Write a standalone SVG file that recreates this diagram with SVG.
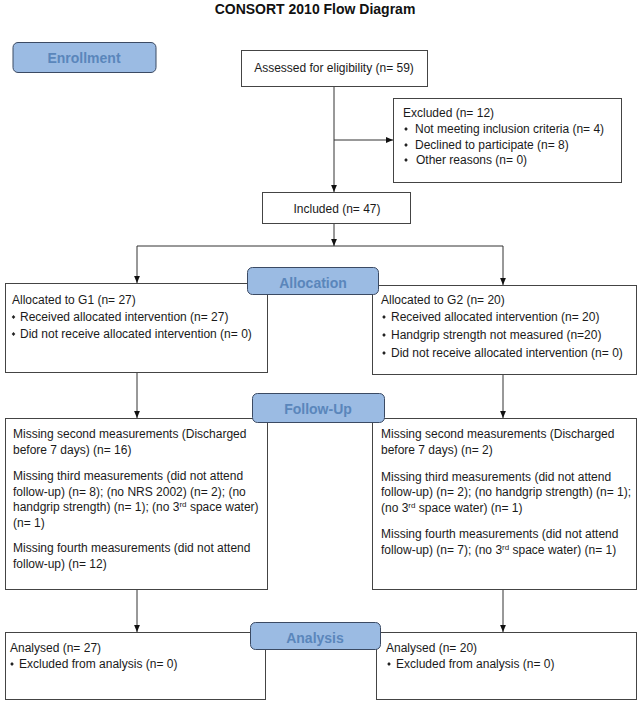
<svg xmlns="http://www.w3.org/2000/svg" width="640" height="702" viewBox="0 0 640 702">
<style>
.bg{fill:#ffffff}
.box{fill:#ffffff;stroke:#444444;stroke-width:1}
.lab{fill:#9bbbe3;stroke:#3b4a63;stroke-width:1}
.lt{font-family:"Liberation Sans",Arial,sans-serif;font-weight:bold;font-size:14px;fill:#5a86bb;text-anchor:middle}
.title{font-family:"Liberation Sans",Arial,sans-serif;font-weight:bold;font-size:14px;fill:#111111;text-anchor:middle}
.t{font-family:"Liberation Sans",Arial,sans-serif;font-size:12px;fill:#1a1a1a}
.c{text-anchor:middle}
.ln{fill:none;stroke:#333333;stroke-width:1}
.sup{font-size:8px}
</style>
<defs>
<marker id="ar" viewBox="0 0 7 7" refX="7" refY="3.5" markerWidth="7" markerHeight="7" markerUnits="userSpaceOnUse" orient="auto">
<path d="M0,0.6 L7,3.5 L0,6.4Z" fill="#111111"/>
</marker>
<path id="b" d="M0,-2 L1.8,0 L0,2 L-1.8,0Z" fill="#222222"/>
</defs>
<rect class="bg" x="0" y="0" width="640" height="702"/>
<text class="title" x="315" y="14">CONSORT 2010 Flow Diagram</text>

<g id="connectors">
<path class="ln" d="M334,86 V192" marker-end="url(#ar)"/>
<path class="ln" d="M334,140 H393" marker-end="url(#ar)"/>
<path class="ln" d="M334,223 V246" marker-end="url(#ar)"/>
<path class="ln" d="M137,246 H503"/>
<path class="ln" d="M137,246 V283" marker-end="url(#ar)"/>
<path class="ln" d="M503,246 V285" marker-end="url(#ar)"/>
<path class="ln" d="M137,372 V418" marker-end="url(#ar)"/>
<path class="ln" d="M503,374 V418" marker-end="url(#ar)"/>
<path class="ln" d="M137,589 V632" marker-end="url(#ar)"/>
<path class="ln" d="M503,589 V632" marker-end="url(#ar)"/>
</g>

<g id="enrollment">
<rect class="lab" x="13" y="42.5" width="143" height="30" rx="5"/>
<text class="lt" x="84" y="62.5">Enrollment</text>
</g>

<g id="assessed">
<rect class="box" x="241.5" y="50.5" width="186" height="36"/>
<text class="t c" x="334" y="72">Assessed for eligibility (n= 59)</text>
</g>

<g id="excluded">
<rect class="box" x="393.5" y="98.5" width="228" height="84"/>
<text class="t" x="403" y="117">Excluded (n= 12)</text>
<use href="#b" x="406" y="129"/>
<text class="t" x="415" y="133">Not meeting inclusion criteria (n= 4)</text>
<use href="#b" x="406" y="145"/>
<text class="t" x="415" y="149">Declined to participate (n= 8)</text>
<use href="#b" x="406" y="160"/>
<text class="t" x="416" y="164">Other reasons (n= 0)</text>
</g>

<g id="included">
<rect class="box" x="262.5" y="192.5" width="148" height="31"/>
<text class="t c" x="337" y="213">Included (n= 47)</text>
</g>

<g id="g1">
<rect class="box" x="5.5" y="283.5" width="262" height="89"/>
<text class="t" x="12" y="304">Allocated to G1 (n= 27)</text>
<use href="#b" x="13.5" y="317"/>
<text class="t" x="20" y="321">Received allocated intervention (n= 27)</text>
<use href="#b" x="13.5" y="334"/>
<text class="t" x="20" y="338">Did not receive allocated intervention (n= 0)</text>
</g>

<g id="g2">
<rect class="box" x="372.5" y="285.5" width="264" height="89"/>
<text class="t" x="381" y="304">Allocated to G2 (n= 20)</text>
<use href="#b" x="384" y="317"/>
<text class="t" x="391" y="321">Received allocated intervention (n= 20)</text>
<use href="#b" x="384" y="335"/>
<text class="t" x="391" y="339">Handgrip strength not measured (n=20)</text>
<use href="#b" x="384" y="353"/>
<text class="t" x="391" y="357">Did not receive allocated intervention (n= 0)</text>
</g>

<g id="allocation">
<rect class="lab" x="247.5" y="267.5" width="131" height="27" rx="5"/>
<text class="lt" x="313" y="288">Allocation</text>
</g>

<g id="followup-g1">
<rect class="box" x="5.5" y="418.5" width="262" height="171"/>
<text class="t" x="13" y="438">Missing second measurements (Discharged</text>
<text class="t" x="13" y="454">before 7 days) (n= 16)</text>
<text class="t" x="13" y="480">Missing third measurements (did not attend</text>
<text class="t" x="13" y="496">follow-up) (n= 8); (no NRS 2002) (n= 2); (no</text>
<text class="t" x="13" y="511">handgrip strength) (n= 1); (no 3<tspan class="sup" dy="-4">rd</tspan><tspan dy="4"> space water)</tspan></text>
<text class="t" x="13" y="527">(n= 1)</text>
<text class="t" x="13" y="552">Missing fourth measurements (did not attend</text>
<text class="t" x="13" y="568">follow-up) (n= 12)</text>
</g>

<g id="followup-g2">
<rect class="box" x="372.5" y="418.5" width="264" height="171"/>
<text class="t" x="381" y="438">Missing second measurements (Discharged</text>
<text class="t" x="381" y="454">before 7 days) (n= 2)</text>
<text class="t" x="381" y="481">Missing third measurements (did not attend</text>
<text class="t" x="381" y="496">follow-up) (n= 2); (no handgrip strength) (n= 1);</text>
<text class="t" x="381" y="512">(no 3<tspan class="sup" dy="-4">rd</tspan><tspan dy="4"> space water) (n= 1)</tspan></text>
<text class="t" x="381" y="538">Missing fourth measurements (did not attend</text>
<text class="t" x="381" y="554">follow-up) (n= 7); (no 3<tspan class="sup" dy="-4">rd</tspan><tspan dy="4"> space water) (n= 1)</tspan></text>
</g>

<g id="followup">
<rect class="lab" x="252.5" y="393.5" width="132" height="29" rx="5"/>
<text class="lt" x="318" y="414">Follow-Up</text>
</g>

<g id="analysed-g1">
<rect class="box" x="5.5" y="632.5" width="260" height="67"/>
<text class="t" x="10" y="652">Analysed (n= 27)</text>
<use href="#b" x="12" y="664"/>
<text class="t" x="19" y="668">Excluded from analysis (n= 0)</text>
</g>

<g id="analysed-g2">
<rect class="box" x="376.5" y="632.5" width="260" height="67"/>
<text class="t" x="386" y="652">Analysed (n= 20)</text>
<use href="#b" x="389" y="664"/>
<text class="t" x="396" y="668">Excluded from analysis (n= 0)</text>
</g>

<g id="analysis">
<rect class="lab" x="250.5" y="622.5" width="130" height="27" rx="5"/>
<text class="lt" x="315" y="643">Analysis</text>
</g>
</svg>
